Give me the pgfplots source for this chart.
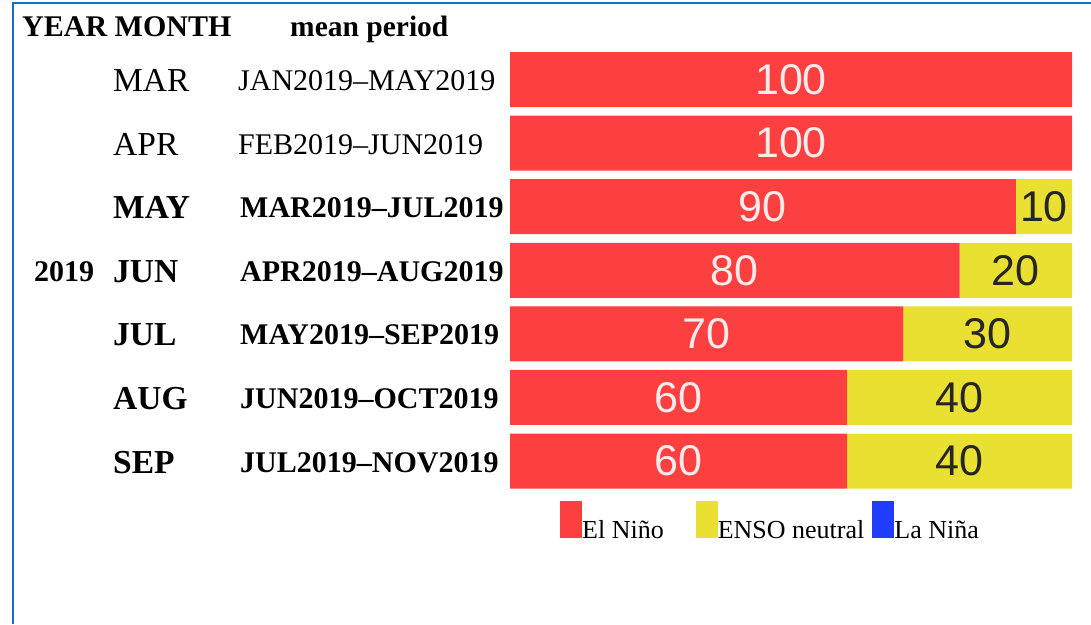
\documentclass[border=0pt]{standalone}
\usepackage{fontspec}
\setmainfont{Liberation Serif}
\newfontfamily\valfont{Liberation Sans}
\usepackage{pgfplots}
\usepackage{pgfplotstable}
\pgfplotsset{compat=1.18}
\definecolor{elred}{RGB}{252,64,64}
\definecolor{enyel}{RGB}{233,224,50}
\definecolor{nablue}{RGB}{34,60,255}
\definecolor{bordblue}{RGB}{22,112,192}
\newcommand\mf{\fontsize{33.5}{33.5}\selectfont}
\newcommand\rf{\fontsize{30}{30}\selectfont}
\pgfplotstableread{
row nino neutral
0 100 0
1 100 0
2 90 10
3 80 20
4 70 30
5 60 40
6 60 40
}\bars
\pgfplotstableread{
row x lab
0 50 100
1 50 100
2 45 90
3 40 80
4 35 70
5 30 60
6 30 60
}\redlab
\pgfplotstableread{
row x lab
2 95 10
3 90 20
4 85 30
5 80 40
6 80 40
}\yellab
\pgfplotsset{mylegend/.style={legend image code/.code={\fill[##1] (0pt,-8pt) rectangle (22pt,29pt);}}}
\begin{document}
\begin{tikzpicture}[x=1pt,y=1pt]
\path[use as bounding box] (0,0) rectangle (1091,624);
\draw[bordblue, line width=2.5pt] (13,0) -- (13,621) -- (1091,621);
% headers
\node[anchor=base west, inner sep=0pt, font=\fontsize{30}{30}\selectfont\bfseries] at (22,587) {YEAR MONTH};
\node[anchor=base west, inner sep=0pt, font=\fontsize{29.5}{29.5}\selectfont\bfseries] at (290,587) {mean period};
% rows
\node[anchor=base west, inner sep=0pt, font=\mf] at (113,532.5) {MAR};
\node[anchor=base west, inner sep=0pt, font=\rf] at (238,533.5) {JAN2019–MAY2019};
\node[anchor=base west, inner sep=0pt, font=\mf] at (113,468.9) {APR};
\node[anchor=base west, inner sep=0pt, font=\rf] at (238,469.9) {FEB2019–JUN2019};
\node[anchor=base west, inner sep=0pt, font=\mf\bfseries] at (113,405.3) {MAY};
\node[anchor=base west, inner sep=0pt, font=\rf\bfseries] at (240,406.3) {MAR2019–JUL2019};
\node[anchor=base west, inner sep=0pt, font=\rf\bfseries] at (34,342.3) {2019};
\node[anchor=base west, inner sep=0pt, font=\mf\bfseries] at (113,341.8) {JUN};
\node[anchor=base west, inner sep=0pt, font=\rf\bfseries] at (240,342.8) {APR2019–AUG2019};
\node[anchor=base west, inner sep=0pt, font=\mf\bfseries] at (113,278.2) {JUL};
\node[anchor=base west, inner sep=0pt, font=\rf\bfseries] at (240,279.2) {MAY2019–SEP2019};
\node[anchor=base west, inner sep=0pt, font=\mf\bfseries] at (113,214.6) {AUG};
\node[anchor=base west, inner sep=0pt, font=\rf\bfseries] at (240,215.6) {JUN2019–OCT2019};
\node[anchor=base west, inner sep=0pt, font=\mf\bfseries] at (113,151.0) {SEP};
\node[anchor=base west, inner sep=0pt, font=\rf\bfseries] at (240,152.0) {JUL2019–NOV2019};
\begin{axis}[at={(510pt,131.2pt)}, anchor=south west, width=562pt, height=445pt, scale only axis,
  xbar stacked, bar width=55pt, xmin=0, xmax=100, ymin=-0.5, ymax=6.5, y dir=reverse,
  hide axis, clip=false,
  legend columns=3,
  legend style={draw=none, fill=none, inner sep=0pt, at={(0.089,-0.0184)}, anchor=north west,
    font=\fontsize{26}{26}\selectfont, column sep=0pt, nodes={inner sep=0pt},
    /tikz/column 2/.style={column sep=32pt}, /tikz/column 4/.style={column sep=8pt}},
  legend entries={El Niño, ENSO neutral, La Niña}]
\addplot[fill=elred, draw=none, mylegend] table[x=nino, y=row] {\bars};
\addplot[fill=enyel, draw=none, mylegend] table[x=neutral, y=row] {\bars};
\addlegendimage{fill=nablue, draw=none, mylegend}
\end{axis}
\begin{axis}[at={(510pt,131.2pt)}, anchor=south west, width=562pt, height=445pt, scale only axis,
  xmin=0, xmax=100, ymin=-0.5, ymax=6.5, y dir=reverse, hide axis, clip=false]
\addplot[only marks, mark=text, text mark={}, nodes near coords, point meta=explicit symbolic,
  every node near coord/.append style={anchor=center, inner sep=0pt, text=white!92!red, font=\valfont\fontsize{43}{43}\selectfont}]
  table[x=x, y=row, meta=lab] {\redlab};
\addplot[only marks, mark=text, text mark={}, nodes near coords, point meta=explicit symbolic,
  every node near coord/.append style={anchor=center, inner sep=0pt, text=black!85, font=\valfont\fontsize{43}{43}\selectfont}]
  table[x=x, y=row, meta=lab] {\yellab};
\end{axis}
\end{tikzpicture}
\end{document}
